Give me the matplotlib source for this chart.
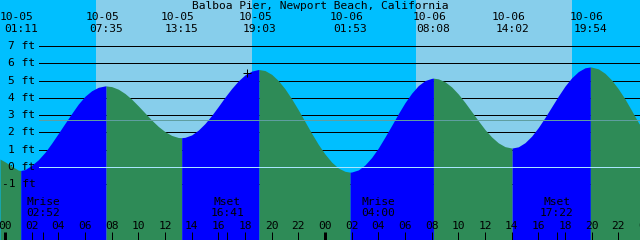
import matplotlib
matplotlib.use('Agg')
import matplotlib.pyplot as plt
import numpy as np

title = 'Balboa Pier, Newport Beach, California'

# water level every half hour, hours from 10-05 00:00
hour_marks = [-0.375, 0, 0.5, 1, 1.5, 2, 2.5, 3, 3.5, 4, 4.5, 5, 5.5, 6, 6.5, 7,
              7.5, 8, 8.5, 9, 9.5, 10, 10.5, 11, 11.5, 12, 12.5, 13, 13.5, 14,
              14.5, 15, 15.5, 16, 16.5, 17, 17.5, 18, 18.5, 19, 19.5, 20, 20.5,
              21, 21.5, 22, 22.5, 23, 23.5, 24, 24.5, 25, 25.5, 26, 26.5, 27,
              27.5, 28, 28.5, 29, 29.5, 30, 30.5, 31, 31.5, 32, 32.5, 33, 33.5,
              34, 34.5, 35, 35.5, 36, 36.5, 37, 37.5, 38, 38.5, 39, 39.5, 40,
              40.5, 41, 41.5, 42, 42.5, 43, 43.5, 44, 44.5, 45, 45.5, 46, 46.5,
              47, 47.5, 47.625]
hour_feet = [0.46, 0.30, 0.05, -0.18, -0.15, 0.10, 0.42, 0.85, 1.38, 1.95, 2.53,
             3.10, 3.65, 4.10, 4.42, 4.62, 4.70, 4.66, 4.51, 4.26, 3.93, 3.54,
             3.13, 2.72, 2.35, 2.05, 1.83, 1.71, 1.72, 1.86, 2.14, 2.52, 2.99,
             3.51, 4.05, 4.55, 4.99, 5.34, 5.56, 5.65, 5.59, 5.37, 5.01, 4.53,
             3.95, 3.31, 2.63, 1.95, 1.31, 0.75, 0.28, -0.06, -0.25, -0.29,
             -0.17, 0.12, 0.55, 1.10, 1.74, 2.41, 3.09, 3.73, 4.28, 4.72, 5.01,
             5.14, 5.11, 4.94, 4.64, 4.23, 3.74, 3.21, 2.68, 2.17, 1.74, 1.40,
             1.18, 1.10, 1.17, 1.41, 1.79, 2.29, 2.87, 3.49, 4.11, 4.69, 5.17,
             5.53, 5.75, 5.79, 5.69, 5.43, 5.04, 4.53, 3.94, 3.27, 2.58, 2.44]

# highs and lows
extreme_hours = [1.183, 7.583, 13.25, 19.05, 25.883, 32.133, 38.033, 43.9]
extreme_feet = [-0.2, 4.7, 1.7, 5.65, -0.3, 5.15, 1.1, 5.8]
extreme_dates = ['10-05', '10-05', '10-05', '10-05', '10-06', '10-06', '10-06', '10-06']
extreme_times = ['01:11', '07:35', '13:15', '19:03', '01:53', '08:08', '14:02', '19:54']

day_spans = [(6.825, 18.5), (30.825, 42.5)]

moon_hours = [2.867, 16.683, 28.0, 41.367]
moon_events = ['Mrise', 'Mset', 'Mrise', 'Mset']
moon_times = ['02:52', '16:41', '04:00', '17:22']

foot_levels = [-1, 0, 1, 2, 3, 4, 5, 6, 7]
mean_level = 2.7
now_hour, now_feet = 18.15, 5.44

NIGHT = '#00bfff'
DAY = '#87ceeb'
FLOOD = '#0000ff'
EBB = '#2e8b57'
W, H = 640, 240
PX = 0.72  # one pixel in points

t = np.concatenate([hour_marks, extreme_hours])
h = np.concatenate([hour_feet, extreme_feet])
order = np.argsort(t)
t, h = t[order], h[order]

plt.rcParams['font.family'] = ['DejaVu Sans Mono']
plt.rcParams['font.size'] = 8.1

fig = plt.figure(figsize=(6.4, 2.4), dpi=100, facecolor=NIGHT)
ax = fig.add_axes([0, 0, 1, 1])
ax.set_xlim(-0.375, 47.625)
ymin, ymax = -4.232, 9.681
ax.set_ylim(ymin, ymax)
ax.axis('off')

for a, b in day_spans:
    ax.axvspan(a, b, color=DAY, lw=0, zorder=0)

# foot lines behind the water
for lv in foot_levels:
    ax.axhline(lv, xmin=39 / W, xmax=1, color='black', lw=PX, zorder=1)

# water, flood blue and ebb green
idx = [0] + [int(np.where(t == e)[0][0]) for e in extreme_hours] + [len(t) - 1]
for i0, i1 in zip(idx[:-1], idx[1:]):
    col = FLOOD if h[i1] > h[i0] else EBB
    ax.fill_between(t[i0:i1 + 1], h[i0:i1 + 1], ymin, color=col, lw=0,
                    antialiased=False, zorder=2)

ax.axhline(0, xmin=39 / W, xmax=1, color='#a8e6ff', lw=PX, zorder=3)
ax.axhline(mean_level, xmin=39 / W, xmax=1, color='#5f9ea0', lw=PX, zorder=3)

ax.plot(now_hour, now_feet, marker='+', ms=6, mew=PX, color='black', zorder=5)

yt = ax.get_yaxis_transform()
xt = ax.get_xaxis_transform()

for lv in foot_levels:
    ax.text(35.5 / W, lv, f'{lv} ft', transform=yt, ha='right', va='center', zorder=5)

ax.text(0.5, 1 - 6 / H, title, transform=ax.transAxes, ha='center', va='center', zorder=5)

for hr, d, s in zip(extreme_hours, extreme_dates, extreme_times):
    ax.text(hr - 0.3, 1 - 17.5 / H, d, transform=xt, ha='center', va='center', zorder=5)
    ax.text(hr, 1 - 29.5 / H, s, transform=xt, ha='center', va='center', zorder=5)

for hr, ev, s in zip(moon_hours, moon_events, moon_times):
    ax.text(hr, 1 - 202 / H, ev, transform=xt, ha='center', va='center', zorder=5)
    ax.text(hr, 1 - 213.5 / H, s, transform=xt, ha='center', va='center', zorder=5)

tick_hours = list(range(0, 50, 2))
for hr in tick_hours:
    ax.text(hr, 1 - 226 / H, f'{hr % 24:02d}', transform=xt, ha='center', va='center', zorder=5)
    lw = 3 * PX if hr % 24 == 0 else PX
    ax.vlines(hr, 0, 8 / H, transform=xt, color='black', lw=lw, zorder=5)
ax.vlines(moon_hours, 0, 8 / H, transform=xt, color='black', lw=PX, zorder=5)

fig.savefig('out.png', dpi=100, facecolor=NIGHT)
